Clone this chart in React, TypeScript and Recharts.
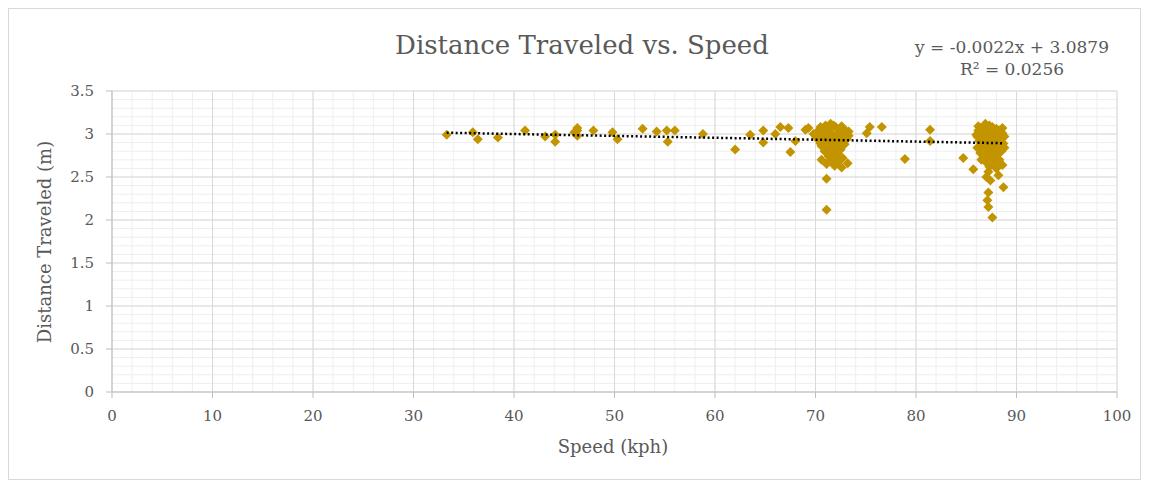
import React from "react";
import {
  ScatterChart,
  Scatter,
  XAxis,
  YAxis,
  CartesianGrid,
} from "recharts";

// Speed (kph) and distance traveled (m)
const speeds: number[] = [
  33.3, 35.9, 36.4, 38.4, 41.1, 43.1, 44.1, 44.1, 46.3, 46.3, 46.3, 46.0, 47.9,
  49.8, 50.3, 52.8, 54.2, 55.2, 55.3, 56.0, 58.8,
  62.0, 63.5, 64.8, 64.8, 66.0, 66.5, 67.3, 67.5, 68.0, 69.0, 69.3, 69.8,
  71.5, 71.8, 72.0, 71.2, 72.4, 70.6, 73.0, 73.3, 70.2, 70.9, 71.6, 72.2, 72.8,
  70.4, 71.0, 71.9, 72.6, 73.1, 70.3, 70.8, 71.4, 72.3, 72.9, 70.6, 71.2, 71.8,
  72.5, 70.9, 71.6, 72.2, 71.3, 72.0, 70.6, 71.5, 72.3, 73.2, 71.1, 71.9, 72.6,
  71.1, 71.1,
  70.5, 71.0, 72.6, 73.3, 70.1, 72.0, 71.6, 72.8, 70.5, 71.3, 72.1, 72.7,
  75.1, 75.4, 76.6, 78.9, 81.4, 81.4, 84.7, 85.7,
  86.9, 87.3, 87.6, 86.5, 88.0, 88.4, 86.2, 87.0, 87.8, 88.6, 86.4, 87.2, 88.2,
  86.1, 86.8, 87.5, 88.5, 86.3, 87.0, 87.9, 88.7, 86.6, 87.4, 88.2, 86.9, 87.7,
  88.5, 86.4, 87.2, 88.0, 86.7, 87.5, 88.3, 86.9, 87.8, 88.6, 87.3, 87.2, 88.2,
  87.4, 88.7, 87.2, 87.1, 87.2, 87.6,
  86.2, 88.6, 86.0, 88.8, 87.4, 87.7, 86.6, 88.8, 86.1, 87.2, 86.5, 88.0, 87.0,
];
const distances: number[] = [
  2.99, 3.02, 2.94, 2.96, 3.04, 2.97, 2.99, 2.91, 3.07, 3.04, 2.98, 3.02, 3.04,
  3.02, 2.94, 3.06, 3.03, 3.04, 2.91, 3.04, 3.0,
  2.82, 2.99, 3.04, 2.9, 3.0, 3.08, 3.07, 2.79, 2.92, 3.05, 3.07, 3.0,
  3.12, 3.1, 3.08, 3.07, 3.06, 3.05, 3.04, 3.03, 3.03, 3.02, 3.01, 3.0, 3.0,
  2.98, 2.97, 2.96, 2.95, 2.94, 2.93, 2.91, 2.9, 2.89, 2.88, 2.86, 2.84, 2.83,
  2.82, 2.8, 2.78, 2.77, 2.74, 2.72, 2.7, 2.69, 2.68, 2.66, 2.65, 2.63, 2.61,
  2.48, 2.12,
  3.08, 3.1, 3.09, 2.98, 2.96, 2.92, 2.86, 2.93, 2.89, 2.95, 2.85, 2.72,
  3.01, 3.08, 3.08, 2.71, 3.05, 2.92, 2.72, 2.59,
  3.12, 3.1, 3.08, 3.07, 3.06, 3.05, 3.04, 3.03, 3.02, 3.01, 3.0, 2.99, 2.98,
  2.97, 2.96, 2.95, 2.94, 2.92, 2.91, 2.9, 2.89, 2.87, 2.86, 2.85, 2.83, 2.81,
  2.8, 2.78, 2.77, 2.75, 2.73, 2.72, 2.7, 2.68, 2.66, 2.64, 2.62, 2.56, 2.52,
  2.46, 2.38, 2.32, 2.23, 2.15, 2.03,
  3.09, 3.07, 2.99, 2.97, 3.0, 2.93, 2.9, 2.84, 2.84, 2.8, 2.7, 2.6, 2.5,
];

const xTicks: number[] = [0, 10, 20, 30, 40, 50, 60, 70, 80, 90, 100];
const yTicks: number[] = [0, 0.5, 1, 1.5, 2, 2.5, 3, 3.5];
const xMinorTicks: number[] = [
  0, 2, 4, 6, 8, 10, 12, 14, 16, 18, 20, 22, 24, 26, 28, 30, 32, 34, 36, 38, 40,
  42, 44, 46, 48, 50, 52, 54, 56, 58, 60, 62, 64, 66, 68, 70, 72, 74, 76, 78, 80,
  82, 84, 86, 88, 90, 92, 94, 96, 98, 100,
];
const yMinorTicks: number[] = [
  0, 0.1, 0.2, 0.3, 0.4, 0.5, 0.6, 0.7, 0.8, 0.9, 1, 1.1, 1.2, 1.3, 1.4, 1.5,
  1.6, 1.7, 1.8, 1.9, 2, 2.1, 2.2, 2.3, 2.4, 2.5, 2.6, 2.7, 2.8, 2.9, 3, 3.1,
  3.2, 3.3, 3.4, 3.5,
];

// Trendline as given by the chart's equation
const trendSlope = -0.0022;
const trendIntercept = 3.0879;
const rSquared = "0.0256";

const points = speeds.map((s, i) => ({ x: s, y: distances[i] }));
const xMin = Math.min(...speeds);
const xMax = Math.max(...speeds);
const trendPoints = [
  { x: xMin, y: trendSlope * xMin + trendIntercept },
  { x: xMax, y: trendSlope * xMax + trendIntercept },
];

const FONT = "'DejaVu Serif', serif";
const TEXT = "#595959";
const MARKER = "#C29400";

const Diamond = (props: any) => {
  const { cx, cy } = props;
  if (cx == null || cy == null) return <g />;
  const r = 5;
  return (
    <path
      d={`M${cx},${cy - r}L${cx + r},${cy}L${cx},${cy + r}L${cx - r},${cy}Z`}
      fill={MARKER}
    />
  );
};

const NoShape = () => <g />;

const scaleOf = (axis: any) => {
  const s = axis && axis.scale;
  if (!s) return null;
  if (typeof s === "function") return s;
  if (typeof s.map === "function") return (v: number) => s.map(v);
  return null;
};

const minorH = (p: any) => {
  const s = scaleOf(p.yAxis);
  return s ? yMinorTicks.map((v) => s(v)) : [];
};
const minorV = (p: any) => {
  const s = scaleOf(p.xAxis);
  return s ? xMinorTicks.map((v) => s(v)) : [];
};

export default function App() {
  return (
    <div
      style={{
        position: "relative",
        width: 1133,
        height: 472,
        border: "1px solid #D9D9D9",
        boxSizing: "border-box",
        background: "#fff",
        fontFamily: FONT,
      }}
    >
      <ScatterChart
        width={1131}
        height={470}
        margin={{ top: 82, right: 23, bottom: 57, left: 43 }}
      >
        <CartesianGrid
          stroke="#EEEEEE"
          strokeWidth={1}
          horizontalCoordinatesGenerator={minorH}
          verticalCoordinatesGenerator={minorV}
        />
        <CartesianGrid stroke="#D9D9D9" strokeWidth={1} />
        <XAxis
          type="number"
          dataKey="x"
          domain={[0, 100]}
          ticks={xTicks}
          interval={0}
          height={30}
          axisLine={{ stroke: "#BFBFBF" }}
          tickLine={{ stroke: "#BFBFBF" }}
          tickSize={6}
          tickMargin={12}
          tick={{ fill: TEXT, fontSize: 15, fontFamily: FONT }}
        />
        <YAxis
          type="number"
          dataKey="y"
          domain={[0, 3.5]}
          ticks={yTicks}
          interval={0}
          width={60}
          axisLine={{ stroke: "#BFBFBF" }}
          tickLine={{ stroke: "#BFBFBF" }}
          tickSize={6}
          tickMargin={12}
          tick={{ fill: TEXT, fontSize: 15, fontFamily: FONT }}
        />
        <Scatter
          data={points}
          shape={Diamond}
          isAnimationActive={false}
        />
        <Scatter
          data={trendPoints}
          shape={NoShape}
          line={{ stroke: "#000", strokeWidth: 2.5, strokeDasharray: "2 2.5" }}
          isAnimationActive={false}
        />
      </ScatterChart>

      <div
        style={{
          position: "absolute",
          left: 273,
          width: 600,
          top: 20,
          textAlign: "center",
          fontSize: 26,
          lineHeight: "32px",
          color: TEXT,
        }}
      >
        Distance Traveled vs. Speed
      </div>
      <div
        style={{
          position: "absolute",
          left: 893,
          width: 220,
          top: 27,
          textAlign: "center",
          fontSize: 17,
          lineHeight: "22px",
          color: TEXT,
        }}
      >
        <div>{`y = ${trendSlope}x + ${trendIntercept}`}</div>
        <div>{`R² = ${rSquared}`}</div>
      </div>
      <div
        style={{
          position: "absolute",
          left: 36,
          top: 233,
          transform: "translate(-50%, -50%) rotate(-90deg)",
          whiteSpace: "nowrap",
          fontSize: 18,
          lineHeight: "24px",
          color: TEXT,
        }}
      >
        Distance Traveled (m)
      </div>
      <div
        style={{
          position: "absolute",
          left: 504,
          width: 200,
          top: 426,
          textAlign: "center",
          fontSize: 18,
          lineHeight: "24px",
          color: TEXT,
        }}
      >
        Speed (kph)
      </div>
    </div>
  );
}
